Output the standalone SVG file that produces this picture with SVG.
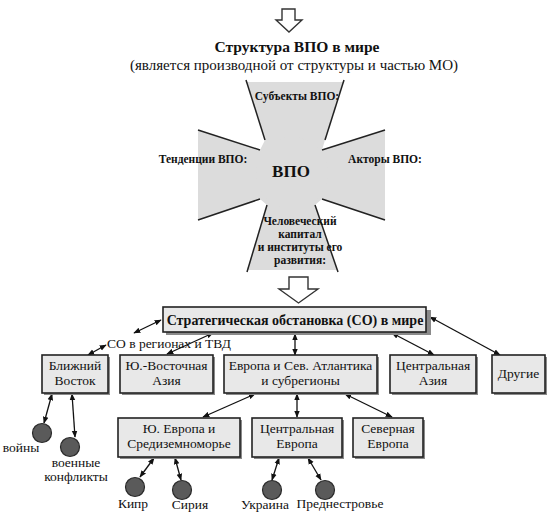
<svg xmlns="http://www.w3.org/2000/svg" width="550" height="518" viewBox="0 0 550 518">
<style>
.box{fill:#e8e8e8;stroke:#222;stroke-width:1.6}
.sh{fill:#8a8a8a}
.dot{fill:#5a5a5a;stroke:#2a2a2a;stroke-width:1.2}
.con{stroke:#111;stroke-width:1.3;fill:none;marker-start:url(#ah);marker-end:url(#ah)}
.crossline{stroke:#222;stroke-width:1.5}
.hollow{fill:#fff;stroke:#333;stroke-width:1.4}
</style>
<defs>
<marker id="ah" viewBox="0 0 10 10" refX="9" refY="5" markerWidth="7" markerHeight="7" markerUnits="userSpaceOnUse" orient="auto-start-reverse">
<path d="M0,1 L10,5 L0,9 Z" fill="#111"/>
</marker>
</defs>
<rect width="550" height="518" fill="#fff"/>

<g id="top-arrow">
<path class="hollow" d="M282,9 H295 V20 H302 L289,32 L276,20 H282 Z"/>
</g>

<g id="title">
<text x="297" y="52" style="font-family:'Liberation Serif',serif;font-weight:bold;font-size:15.5px" text-anchor="middle" fill="#111">Структура ВПО в мире</text>
<text x="294" y="70" style="font-family:'Liberation Serif',serif;font-size:15px" text-anchor="middle" fill="#111">(является производной от структуры и частью МО)</text>
</g>

<g id="cross">
<path fill="#dcdcdc" d="M247,82 H343 L325,140 L322,150 L385,130 V220 L322,199 L315,205 L337,270 H247 L267,205 L260,199 L198,220 V130 L260,150 L265,140 Z"/>
<circle cx="292" cy="173" r="36" fill="#dcdcdc"/>
<line class="crossline" x1="246" y1="80" x2="265" y2="140"/>
<line class="crossline" x1="344" y1="80" x2="325" y2="140"/>
<line class="crossline" x1="198" y1="130" x2="260" y2="150"/>
<line class="crossline" x1="198" y1="220" x2="260" y2="199"/>
<line class="crossline" x1="385" y1="130" x2="322" y2="150"/>
<line class="crossline" x1="385" y1="220" x2="322" y2="199"/>
<line class="crossline" x1="247" y1="272" x2="267" y2="205"/>
<line class="crossline" x1="338" y1="272" x2="315" y2="205"/>
<text x="297" y="100" style="font-family:'Liberation Serif',serif;font-weight:bold;font-size:11.5px" text-anchor="middle" fill="#111">Субъекты ВПО:</text>
<text x="203" y="163" style="font-family:'Liberation Serif',serif;font-weight:bold;font-size:11.5px" text-anchor="middle" fill="#111">Тенденции ВПО:</text>
<text x="291" y="177" style="font-family:'Liberation Serif',serif;font-weight:bold;font-size:17px" text-anchor="middle" fill="#111">ВПО</text>
<text x="385" y="163" style="font-family:'Liberation Serif',serif;font-weight:bold;font-size:11.5px" text-anchor="middle" fill="#111">Акторы ВПО:</text>
<text x="300" y="225" style="font-family:'Liberation Serif',serif;font-weight:bold;font-size:11.5px" text-anchor="middle" fill="#111">Человеческий</text>
<text x="300" y="238" style="font-family:'Liberation Serif',serif;font-weight:bold;font-size:11.5px" text-anchor="middle" fill="#111">капитал</text>
<text x="300" y="251" style="font-family:'Liberation Serif',serif;font-weight:bold;font-size:11.5px" text-anchor="middle" fill="#111">и институты его</text>
<text x="300" y="264" style="font-family:'Liberation Serif',serif;font-weight:bold;font-size:11.5px" text-anchor="middle" fill="#111">развития:</text>
</g>

<g id="mid-arrow">
<path class="hollow" d="M289,277 H308 V289 H318 L298.5,303 L279,289 H289 Z"/>
</g>

<g id="connectors">
<line class="con" x1="88" y1="355" x2="106" y2="345" marker-end="none"/>
<line class="con" x1="134" y1="333" x2="161" y2="320" marker-start="none"/>
<line class="con" x1="167" y1="354" x2="213" y2="333"/>
<line class="con" x1="295" y1="334" x2="295" y2="355"/>
<line class="con" x1="392" y1="333" x2="434" y2="355"/>
<line class="con" x1="430" y1="317" x2="500" y2="355"/>
<line class="con" x1="255" y1="394" x2="203" y2="417"/>
<line class="con" x1="297" y1="394" x2="297" y2="417"/>
<line class="con" x1="345" y1="394" x2="392" y2="417"/>
<line class="con" x1="52" y1="394" x2="44" y2="423"/>
<line class="con" x1="72" y1="394" x2="75" y2="437"/>
<line class="con" x1="154" y1="458" x2="140" y2="477"/>
<line class="con" x1="175" y1="458" x2="181" y2="480"/>
<line class="con" x1="279" y1="458" x2="272" y2="480"/>
<line class="con" x1="308" y1="458" x2="321" y2="480"/>
</g>
<text x="107" y="348" style="font-family:'Liberation Serif',serif;font-size:13.5px" fill="#111">СО в регионах и ТВД</text>

<g id="so-main">
<rect class="sh" x="166" y="310" width="265" height="25"/>
<rect class="box" x="163" y="307" width="263" height="25"/>
<text x="295" y="325" style="font-family:'Liberation Serif',serif;font-weight:bold;font-size:14px" text-anchor="middle" fill="#111">Стратегическая обстановка (СО) в мире</text>
</g>

<g id="blizhniy">
<rect class="sh" x="44" y="357" width="66" height="38"/>
<rect class="box" x="42" y="355" width="66" height="38"/>
<text x="75" y="370" style="font-family:'Liberation Serif',serif;font-size:13.5px" text-anchor="middle" fill="#111">Ближний</text>
<text x="75" y="385" style="font-family:'Liberation Serif',serif;font-size:13.5px" text-anchor="middle" fill="#111">Восток</text>
</g>
<g id="yuv-asia">
<rect class="sh" x="122" y="357" width="93" height="38"/>
<rect class="box" x="120" y="355" width="93" height="38"/>
<text x="166.5" y="370" style="font-family:'Liberation Serif',serif;font-size:13.5px" text-anchor="middle" fill="#111">Ю.-Восточная</text>
<text x="166.5" y="385" style="font-family:'Liberation Serif',serif;font-size:13.5px" text-anchor="middle" fill="#111">Азия</text>
</g>
<g id="europe">
<rect class="sh" x="226" y="357" width="153" height="38"/>
<rect class="box" x="224" y="355" width="153" height="38"/>
<text x="300.5" y="370" style="font-family:'Liberation Serif',serif;font-size:13.5px" text-anchor="middle" fill="#111">Европа и Сев. Атлантика</text>
<text x="300.5" y="385" style="font-family:'Liberation Serif',serif;font-size:13.5px" text-anchor="middle" fill="#111">и субрегионы</text>
</g>
<g id="central-asia">
<rect class="sh" x="392" y="357" width="86" height="38"/>
<rect class="box" x="390" y="355" width="86" height="38"/>
<text x="433" y="370" style="font-family:'Liberation Serif',serif;font-size:13.5px" text-anchor="middle" fill="#111">Центральная</text>
<text x="433" y="385" style="font-family:'Liberation Serif',serif;font-size:13.5px" text-anchor="middle" fill="#111">Азия</text>
</g>
<g id="drugie">
<rect class="sh" x="494" y="357" width="53" height="38"/>
<rect class="box" x="492" y="355" width="53" height="38"/>
<text x="518.5" y="378" style="font-family:'Liberation Serif',serif;font-size:13.5px" text-anchor="middle" fill="#111">Другие</text>
</g>

<g id="yu-europe">
<rect class="sh" x="120" y="420" width="122" height="39"/>
<rect class="box" x="118" y="418" width="122" height="39"/>
<text x="179" y="433" style="font-family:'Liberation Serif',serif;font-size:13.5px" text-anchor="middle" fill="#111">Ю. Европа и</text>
<text x="179" y="448" style="font-family:'Liberation Serif',serif;font-size:13.5px" text-anchor="middle" fill="#111">Средиземноморье</text>
</g>
<g id="central-europe">
<rect class="sh" x="254" y="420" width="90" height="39"/>
<rect class="box" x="252" y="418" width="90" height="39"/>
<text x="297" y="433" style="font-family:'Liberation Serif',serif;font-size:13.5px" text-anchor="middle" fill="#111">Центральная</text>
<text x="297" y="448" style="font-family:'Liberation Serif',serif;font-size:13.5px" text-anchor="middle" fill="#111">Европа</text>
</g>
<g id="north-europe">
<rect class="sh" x="355" y="420" width="70" height="39"/>
<rect class="box" x="353" y="418" width="70" height="39"/>
<text x="388" y="433" style="font-family:'Liberation Serif',serif;font-size:13.5px" text-anchor="middle" fill="#111">Северная</text>
<text x="388" y="448" style="font-family:'Liberation Serif',serif;font-size:13.5px" text-anchor="middle" fill="#111">Европа</text>
</g>

<g id="voiny">
<circle class="dot" cx="42" cy="433" r="9.5"/>
<text x="21" y="452" style="font-family:'Liberation Serif',serif;font-size:13.5px" text-anchor="middle" fill="#111">войны</text>
</g>
<g id="conflicts">
<circle class="dot" cx="70" cy="447" r="9.5"/>
<text x="76" y="467" style="font-family:'Liberation Serif',serif;font-size:13.5px" text-anchor="middle" fill="#111">военные</text>
<text x="76" y="481" style="font-family:'Liberation Serif',serif;font-size:13.5px" text-anchor="middle" fill="#111">конфликты</text>
</g>
<g id="kipr">
<circle class="dot" cx="135" cy="487" r="9.5"/>
<text x="133" y="508" style="font-family:'Liberation Serif',serif;font-size:13.5px" text-anchor="middle" fill="#111">Кипр</text>
</g>
<g id="siriya">
<circle class="dot" cx="182" cy="490" r="9.5"/>
<text x="190" y="509" style="font-family:'Liberation Serif',serif;font-size:13.5px" text-anchor="middle" fill="#111">Сирия</text>
</g>
<g id="ukraina">
<circle class="dot" cx="272" cy="490" r="9.5"/>
<text x="265" y="509" style="font-family:'Liberation Serif',serif;font-size:13.5px" text-anchor="middle" fill="#111">Украина</text>
</g>
<g id="pridnestrovie">
<circle class="dot" cx="325" cy="490" r="9.5"/>
<text x="340" y="508" style="font-family:'Liberation Serif',serif;font-size:13.5px" text-anchor="middle" fill="#111">Преднестровье</text>
</g>
</svg>
